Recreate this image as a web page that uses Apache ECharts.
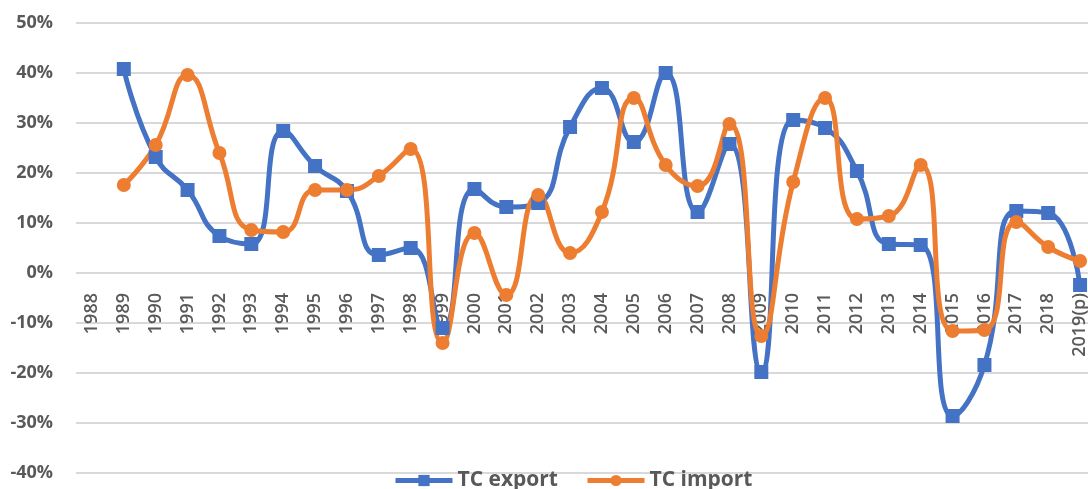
<!DOCTYPE html>
<html>
<head>
<meta charset="utf-8">
<script src="https://cdn.jsdelivr.net/npm/echarts@6/dist/echarts.min.js"></script>
<style>
html,body{margin:0;padding:0;background:#fff;}
#chart{width:1088px;height:489px;}
</style>
</head>
<body>
<div id="chart"></div>
<script>
var categories = ['1988','1989','1990','1991','1992','1993','1994','1995','1996','1997','1998','1999','2000','2001','2002','2003','2004','2005','2006','2007','2008','2009','2010','2011','2012','2013','2014','2015','2016','2017','2018','2019(p)'];
var tcExport = [null,40.8,23.2,16.6,7.4,5.8,28.4,21.4,16.4,3.6,5.0,-11.0,16.8,13.2,14.0,29.2,37.0,26.2,40.0,12.2,25.8,-19.8,30.6,29.0,20.4,5.8,5.6,-28.6,-18.4,12.4,12.0,-2.4];
var tcImport = [null,17.6,25.6,39.6,24.0,8.6,8.2,16.6,16.6,19.4,24.8,-14.0,8.0,-4.4,15.6,4.0,12.2,35.0,21.6,17.4,29.8,-12.6,18.2,35.0,10.8,11.4,21.6,-11.6,-11.4,10.2,5.2,2.4];
var yTicks = {min:-40, max:50, interval:10};
var seriesNames = ['TC export','TC import'];

var font = '"Open Sans", "DejaVu Sans", sans-serif';
var gridTop = 23, gridBottom = 16, chartH = 489;
var plotH = chartH - gridTop - gridBottom;
// distance from bottom of plot to the 0 line, via the value range
var zeroOffset = plotH * (0 - yTicks.min) / (yTicks.max - yTicks.min);

var chart = echarts.init(document.getElementById('chart'), null, {renderer:'canvas'});
chart.setOption({
  animation:false,
  backgroundColor:'#ffffff',
  grid:{left:76, top:gridTop, bottom:gridBottom, width:1020, containLabel:false, outerBoundsMode:'none'},
  legend:{
    top:470, left:393, padding:0, itemWidth:57, itemHeight:14, itemGap:27,
    lineStyle:{width:5},
    textStyle:{fontFamily:font, fontSize:21, fontWeight:700, color:'#595959'},
    data:seriesNames
  },
  xAxis:{
    type:'category', data:categories, boundaryGap:true, position:'bottom', offset:-zeroOffset,
    axisLine:{show:false, onZero:false},
    axisTick:{show:false},
    axisLabel:{rotate:90, margin:20, interval:0, hideOverlap:false, fontFamily:font, fontSize:18, fontWeight:600, color:'#595959'},
    splitLine:{show:false}
  },
  yAxis:{
    type:'value', min:yTicks.min, max:yTicks.max, interval:yTicks.interval,
    axisLine:{show:false}, axisTick:{show:false},
    axisLabel:{formatter:'{value}%', margin:23, fontFamily:font, fontSize:18, fontWeight:700, color:'#595959'},
    splitLine:{lineStyle:{color:'#d9d9d9', width:2}}
  },
  series:[
    {name:seriesNames[0], type:'line', data:tcExport, smooth:0.5, symbol:'rect', symbolSize:14,
     lineStyle:{color:'#4472C4', width:5}, itemStyle:{color:'#4472C4'}, connectNulls:false},
    {name:seriesNames[1], type:'line', data:tcImport, smooth:0.5, symbol:'circle', symbolSize:14,
     lineStyle:{color:'#ED7D31', width:5}, itemStyle:{color:'#ED7D31'}, connectNulls:false}
  ]
});
</script>
</body>
</html>
